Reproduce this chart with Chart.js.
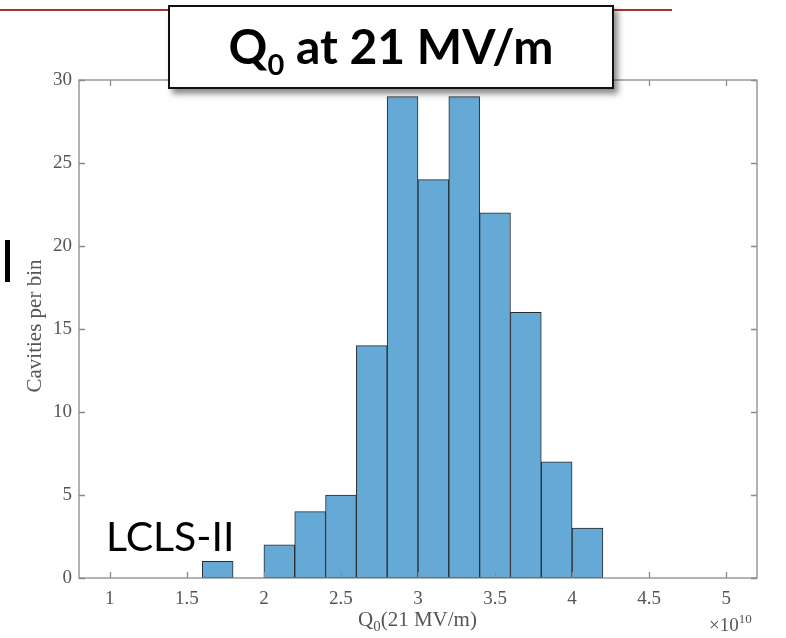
<!DOCTYPE html>
<html>
<head>
<meta charset="utf-8">
<script src="https://cdn.jsdelivr.net/npm/chart.js@4"></script>
<style>
  html, body { margin: 0; padding: 0; background: #fff; }
  #wrap { position: relative; width: 786px; height: 638px; overflow: hidden; }
  canvas { position: absolute; left: 0; top: 0; }
  .ov { position: absolute; white-space: nowrap; }
  #redline { left: 0; top: 9px; width: 672px; height: 2px; background: #a3342f; }
  #titlebox { left: 168px; top: 5px; width: 442px; height: 80px; background: #fff; border: 2px solid #111;
              box-shadow: 4px 5px 6px rgba(0,0,0,0.45); }
  #titletext { position: absolute; left: 0; right: 0; top: 13px; text-align: center;
               font-family: Lato, "Open Sans", sans-serif; font-weight: bold; font-size: 48px; color: #000; line-height: 52px; }
  #titletext sub { font-size: 29px; vertical-align: -11px; line-height: 0; }
  #bar { left: 5px; top: 240px; width: 5px; height: 42px; background: #000; }
  #lcls { left: 106px; top: 511px; font-family: Lato, "Open Sans", sans-serif; font-size: 41px; color: #000; line-height: 50px; }
  #ytitle { left: 34px; top: 326px; transform: translate(-50%, -50%) rotate(-90deg);
            font-family: "Liberation Serif", "Times New Roman", serif; font-size: 21px; color: #555; }
  #xtitle { left: 358px; top: 607px; font-family: "Liberation Serif", "Times New Roman", serif; font-size: 21px; color: #555; line-height: 24px; }
  #xtitle sub { font-size: 15px; vertical-align: -5px; line-height: 0; }
  #xexp { left: 709px; top: 614px; font-family: "Liberation Serif", "Times New Roman", serif; font-size: 19px; color: #555; line-height: 22px; }
  #xexp sup { font-size: 13px; vertical-align: 8px; line-height: 0; }
</style>
</head>
<body>
<div id="wrap">
  <canvas id="c" width="786" height="638"></canvas>
  <div class="ov" id="redline"></div>
  <div class="ov" id="titlebox"><div id="titletext">Q<sub>0</sub> at 21 MV/m</div></div>
  <div class="ov" id="bar"></div>
  <div class="ov" id="lcls">LCLS-II</div>
  <div class="ov" id="ytitle">Cavities per bin</div>
  <div class="ov" id="xtitle">Q<sub>0</sub>(21 MV/m)</div>
  <div class="ov" id="xexp">&times;10<sup>10</sup></div>
</div>
<script>
// ---- data (Q0 in units of 1e10) ----
const binWidth = 0.2;
const binStarts = [1.6, 1.8, 2.0, 2.2, 2.4, 2.6, 2.8, 3.0, 3.2, 3.4, 3.6, 3.8, 4.0];
const counts    = [1,   0,   2,   4,   5,   14,  29,  24,  29,  22,  16,  7,   3];
const xTicks = [1, 1.5, 2, 2.5, 3, 3.5, 4, 4.5, 5];
const yTicks = [0, 5, 10, 15, 20, 25, 30];
const xRange = [0.8, 5.2];
const yRange = [0, 30];

const axisColor = '#8a8a8a';
const labelColor = '#555';
const barFill = '#65a9d7';
const barEdge = '#2a2a2a';

const points = binStarts.map((s, i) => ({ x: s + binWidth / 2, y: counts[i] }));

const boxPlugin = {
  id: 'matlabBox',
  afterDraw(chart) {
    const { ctx, chartArea: a, scales: { x, y } } = chart;
    ctx.save();
    ctx.strokeStyle = axisColor;
    ctx.lineWidth = 1.3;
    ctx.strokeRect(a.left, a.top, a.right - a.left, a.bottom - a.top);
    const tl = 6;
    ctx.beginPath();
    x.ticks.forEach(t => {
      const px = Math.round(x.getPixelForValue(t.value)) + 0.5;
      ctx.moveTo(px, a.bottom); ctx.lineTo(px, a.bottom - tl);
      ctx.moveTo(px, a.top); ctx.lineTo(px, a.top + tl);
    });
    y.ticks.forEach(t => {
      const py = Math.round(y.getPixelForValue(t.value)) + 0.5;
      ctx.moveTo(a.left, py); ctx.lineTo(a.left + tl, py);
      ctx.moveTo(a.right, py); ctx.lineTo(a.right - tl, py);
    });
    ctx.stroke();
    ctx.restore();
  }
};

const tickFont = { family: '"Liberation Serif", "Times New Roman", serif', size: 19 };

new Chart(document.getElementById('c'), {
  type: 'bar',
  data: {
    datasets: [{
      data: points,
      backgroundColor: barFill,
      borderColor: barEdge,
      borderWidth: ctx => (ctx.raw && ctx.raw.y === 0) ? 0 : 1,
      borderSkipped: false,
      barPercentage: 1,
      categoryPercentage: 1
    }]
  },
  options: {
    responsive: false,
    animation: false,
    devicePixelRatio: 1,
    layout: { padding: { top: 80, right: 29, left: 0, bottom: 0 } },
    plugins: { legend: { display: false }, tooltip: { enabled: false } },
    scales: {
      x: {
        type: 'linear',
        min: xRange[0], max: xRange[1],
        offset: false,
        grid: { display: false, drawTicks: false },
        border: { display: false },
        afterBuildTicks: s => { s.ticks = xTicks.map(v => ({ value: v })); },
        afterFit: s => { s.height = 60; },
        ticks: {
          color: labelColor,
          padding: 10,
          maxRotation: 0,
          font: tickFont,
          callback: v => String(v)
        }
      },
      y: {
        min: yRange[0], max: yRange[1],
        grid: { display: false, drawTicks: false },
        border: { display: false },
        afterBuildTicks: s => { s.ticks = yTicks.map(v => ({ value: v })); },
        afterFit: s => { s.width = 79; },
        ticks: {
          color: labelColor,
          padding: 7,
          font: tickFont,
          callback: v => String(v)
        }
      }
    }
  },
  plugins: [boxPlugin]
});
</script>
</body>
</html>
